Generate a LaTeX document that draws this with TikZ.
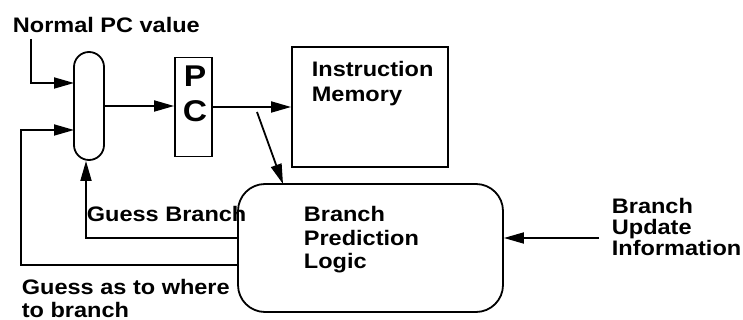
\documentclass[tikz,border=0pt]{standalone}
\usepackage{fontspec}
\setmainfont{Liberation Sans}[FakeStretch=1.12]
\usetikzlibrary{arrows.meta}
\begin{document}
\begin{tikzpicture}[x=1pt,y=-1pt,
  line width=1.8pt,
  arr/.style={-{Triangle[length=20pt,width=11pt]}},
  box/.style={draw,rectangle,inner sep=0pt},
  lbl/.style={inner sep=0pt,anchor=base west,font=\fontsize{21}{23}\selectfont\bfseries},
  pcl/.style={inner sep=0pt,anchor=base,font=\fontsize{30}{32}\selectfont\bfseries}]
\useasboundingbox (0,0) rectangle (743,320);
% blocks
\node[box,rounded corners=15pt,minimum width=30pt,minimum height=108pt] (mux) at (89,106) {};
\node[box,minimum width=37pt,minimum height=99pt] (pc) at (193.5,107) {};
\node[pcl] (pcP) at (195,87) {P};
\node[pcl] (pcC) at (195,122) {C};
\node[box,minimum width=156pt,minimum height=120pt] (imem) at (370,107) {};
\node[box,rounded corners=27pt,minimum width=265pt,minimum height=128pt] (bpl) at (370.5,248) {};
% texts
\node[lbl] (tnpc) at (12,33) {Normal PC value};
\node[lbl] (ti1) at (311,77) {Instruction};
\node[lbl] (ti2) at (311,102) {Memory};
\node[lbl] (tb1) at (303,222) {Branch};
\node[lbl] (tb2) at (303,245) {Prediction};
\node[lbl] (tb3) at (303,268) {Logic};
\node[lbl] (tgb) at (86,222) {Guess Branch};
\node[lbl] (tg1) at (21,294) {Guess as to where};
\node[lbl] (tg2) at (21,317) {to branch};
\node[lbl] (tu1) at (611,214) {Branch};
\node[lbl] (tu2) at (611,234.5) {Update};
\node[lbl] (tu3) at (611,255) {Information};
% coordinates
\coordinate (npc) at (31,39);
\coordinate (m1) at (74,83);
\coordinate (m2) at (74,130);
\coordinate (tap) at (257,107);
\coordinate (bpltop) at (283,184);
\coordinate (gb) at (86,238);
\coordinate (lt) at (21,265);
\coordinate (bu) at (599,238);
% connectors
\draw[arr] (npc) |- (m1);
\draw[arr] (mux.east) -- (mux.east -| pc.west);
\draw[arr] (pc.east) -- (pc.east -| imem.west);
\draw[arr] (tap) ++(0,5) -- (bpltop);
\draw[arr] (gb -| bpl.west) -- (gb) -- (gb |- mux.south);
\draw[arr] (lt -| bpl.west) -- (lt) |- (m2);
\draw[arr] (bu) -- (bu -| bpl.east);
\end{tikzpicture}
\end{document}
